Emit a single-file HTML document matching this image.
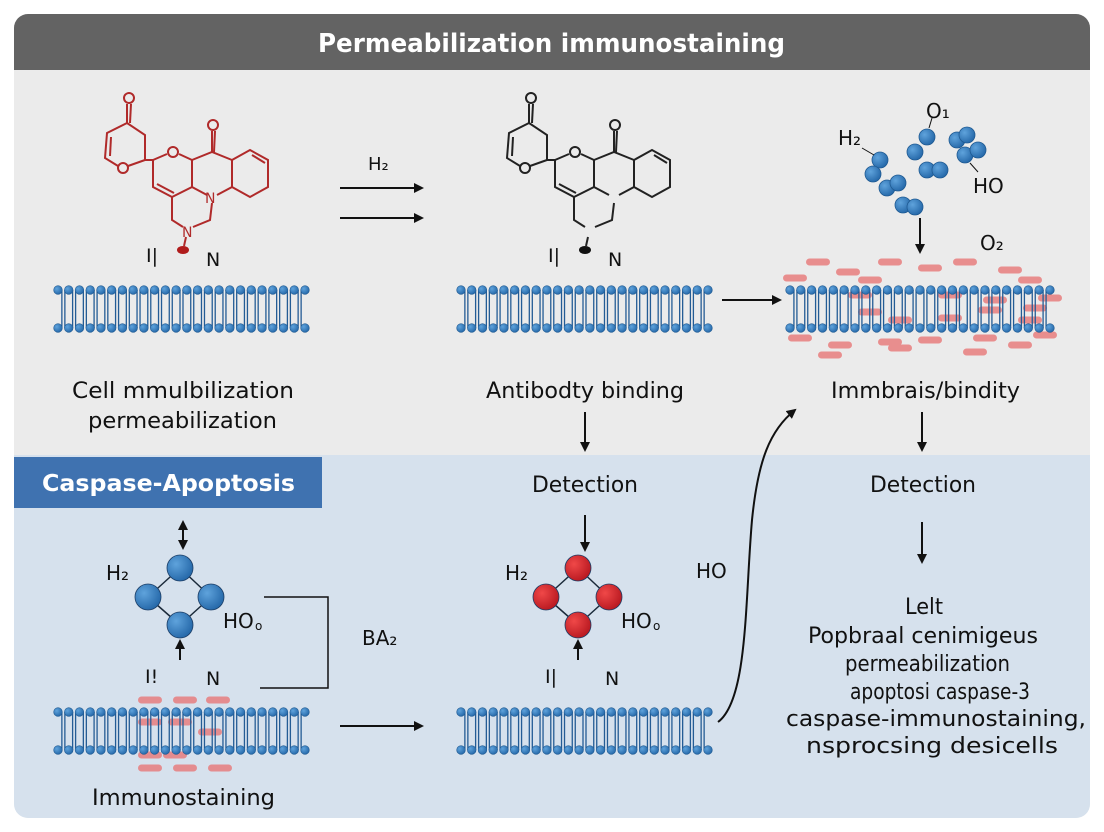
<!DOCTYPE html><html><head><style>
body{margin:0;width:1104px;height:832px;background:#fff;overflow:hidden}
svg{display:block}
text{font-family:"DejaVu Sans","Liberation Sans",sans-serif;fill:#111}
</style></head><body>
<svg id="s" width="1104" height="832" viewBox="0 0 1104 832" xmlns="http://www.w3.org/2000/svg">
<defs>
<marker id="a" markerWidth="10" markerHeight="10" refX="8" refY="5" orient="auto" markerUnits="userSpaceOnUse"><path d="M0,0 L10,5 L0,10 z" fill="#111"/></marker>
<marker id="b" markerWidth="10" markerHeight="10" refX="2" refY="5" orient="auto" markerUnits="userSpaceOnUse"><path d="M10,0 L0,5 L10,10 z" fill="#111"/></marker>
<radialGradient id="g" cx="0.35" cy="0.35" r="0.7"><stop offset="0" stop-color="#5fa3dc"/><stop offset="1" stop-color="#2467a8"/></radialGradient>
<radialGradient id="r" cx="0.35" cy="0.35" r="0.7"><stop offset="0" stop-color="#f04848"/><stop offset="1" stop-color="#b81820"/></radialGradient>
</defs>
<rect x="14" y="14" width="1076" height="804" rx="14" fill="#ebebeb"/>
<path d="M14,455 H1090 V804 a14,14 0 0 1 -14,14 H28 a14,14 0 0 1 -14,-14 z" fill="#d6e1ed"/>
<path d="M14,70 V28 a14,14 0 0 1 14,-14 H1076 a14,14 0 0 1 14,14 V70 z" fill="#636363"/>
<text x="318" y="52" font-size="26" font-weight="bold" textLength="467" lengthAdjust="spacingAndGlyphs" style="fill:#fff">Permeabilization immunostaining</text>
<rect x="14" y="457" width="308" height="51" fill="#3f72b0"/>
<text x="42" y="491" font-size="23" font-weight="bold" textLength="253" lengthAdjust="spacingAndGlyphs" style="fill:#fff">Caspase-Apoptosis</text>

<g id="mol" fill="none" stroke="#b02a2a" stroke-width="2">
<circle cx="129" cy="98" r="5"/>
<line x1="127" y1="104" x2="127" y2="123"/><line x1="131" y1="104" x2="130" y2="123"/>
<polyline points="127,123 107,133 105,158 118,166"/><polyline points="128,166 145,160 145,135 127,123"/>
<line x1="111" y1="137" x2="110" y2="156"/>
<circle cx="123" cy="168" r="5"/>
<line x1="145" y1="160" x2="153" y2="160"/>
<polyline points="153,160 167,154"/><circle cx="173" cy="152" r="5"/><polyline points="179,154 192,160 192,187 172,197 153,187 153,160"/>
<line x1="157" y1="184" x2="174" y2="193"/>
<polyline points="192,160 212,152 232,160 232,187 217,195"/><polyline points="207,195 192,187"/>
<circle cx="213" cy="125" r="5"/><line x1="212" y1="131" x2="212" y2="152"/><line x1="215" y1="131" x2="214" y2="152"/>
<polyline points="232,160 250,150 268,160 268,187 250,197 232,187"/><line x1="252" y1="155" x2="265" y2="163"/>
<polyline points="172,197 172,220 183,227"/><polyline points="193,227 210,220 212,203"/>
<line x1="186" y1="237" x2="184" y2="246"/>
</g>
<text x="205" y="203" font-size="14" style="fill:#b02a2a">N</text>
<text x="182" y="237" font-size="14" style="fill:#b02a2a">N</text>
<ellipse cx="183" cy="250" rx="6" ry="4" fill="#b01c1c"/>
<text x="146" y="262" font-size="19">I|</text><text x="206" y="266" font-size="19">N</text>

<g transform="translate(402,0)">
<g fill="none" stroke="#222" stroke-width="2">
<circle cx="129" cy="98" r="5"/>
<line x1="127" y1="104" x2="127" y2="123"/><line x1="131" y1="104" x2="130" y2="123"/>
<polyline points="127,123 107,133 105,158 118,166"/><polyline points="128,166 145,160 145,135 127,123"/>
<line x1="111" y1="137" x2="110" y2="156"/>
<circle cx="123" cy="168" r="5"/>
<line x1="145" y1="160" x2="153" y2="160"/>
<polyline points="153,160 167,154"/><circle cx="173" cy="152" r="5"/><polyline points="179,154 192,160 192,187 172,197 153,187 153,160"/>
<line x1="157" y1="184" x2="174" y2="193"/>
<polyline points="192,160 212,152 232,160 232,187 217,195"/><polyline points="207,195 192,187"/>
<circle cx="213" cy="125" r="5"/><line x1="212" y1="131" x2="212" y2="152"/><line x1="215" y1="131" x2="214" y2="152"/>
<polyline points="232,160 250,150 268,160 268,187 250,197 232,187"/><line x1="252" y1="155" x2="265" y2="163"/>
<polyline points="172,197 172,220 183,227"/><polyline points="193,227 210,220 212,203"/>
<line x1="186" y1="237" x2="184" y2="246"/>
</g>
<ellipse cx="183" cy="250" rx="6" ry="4" fill="#111"/>
<text x="146" y="262" font-size="19">I|</text><text x="206" y="266" font-size="19">N</text>
</g>

<text x="368" y="170" font-size="18">H₂</text>
<line x1="340" y1="188" x2="422" y2="188" stroke="#111" stroke-width="2" marker-end="url(#a)"/>
<line x1="340" y1="218" x2="422" y2="218" stroke="#111" stroke-width="2" marker-end="url(#a)"/>
<line x1="722" y1="300" x2="780" y2="300" stroke="#111" stroke-width="2" marker-end="url(#a)"/>

<g id="stripes" fill="#e87878" opacity="0.8"></g>
<g id="mem"></g>

<g id="balls"></g>
<text x="838" y="145" font-size="20">H₂</text><text x="926" y="118" font-size="20">O₁</text>
<text x="973" y="193" font-size="20">HO</text><text x="980" y="250" font-size="20">O₂</text>
<line x1="920" y1="218" x2="920" y2="252" stroke="#111" stroke-width="2" marker-end="url(#a)"/>

<g font-size="22" lengthAdjust="spacingAndGlyphs">
<text x="72" y="398" textLength="222" lengthAdjust="spacingAndGlyphs">Cell mmulbilization</text>
<text x="88" y="428" textLength="189" lengthAdjust="spacingAndGlyphs">permeabilization</text>
<text x="486" y="398" textLength="198" lengthAdjust="spacingAndGlyphs">Antibodty binding</text>
<text x="831" y="398" textLength="189" lengthAdjust="spacingAndGlyphs">Immbrais/bindity</text>
<text x="532" y="492" textLength="106" lengthAdjust="spacingAndGlyphs">Detection</text>
<text x="870" y="492" textLength="106" lengthAdjust="spacingAndGlyphs">Detection</text>
<text x="92" y="805" textLength="183" lengthAdjust="spacingAndGlyphs">Immunostaining</text>
<text x="905" y="614" textLength="38" lengthAdjust="spacingAndGlyphs">Lelt</text>
<text x="808" y="643" textLength="230" lengthAdjust="spacingAndGlyphs">Popbraal cenimigeus</text>
<text x="845" y="671" textLength="165" lengthAdjust="spacingAndGlyphs">permeabilization</text>
<text x="850" y="699" textLength="180" lengthAdjust="spacingAndGlyphs">apoptosi caspase-3</text>
<text x="786" y="726" textLength="300" lengthAdjust="spacingAndGlyphs">caspase-immunostaining,</text>
<text x="806" y="753" textLength="252" lengthAdjust="spacingAndGlyphs">nsprocsing desicells</text>
</g>
<g stroke="#111" stroke-width="2" fill="none">
<line x1="585" y1="412" x2="585" y2="450" marker-end="url(#a)"/>
<line x1="922" y1="412" x2="922" y2="450" marker-end="url(#a)"/>
<line x1="585" y1="515" x2="585" y2="550" marker-end="url(#a)"/>
<line x1="922" y1="522" x2="922" y2="562" marker-end="url(#a)"/>
<line x1="183" y1="522" x2="183" y2="548" marker-end="url(#a)" marker-start="url(#b)"/>
<line x1="180" y1="660" x2="180" y2="641" marker-end="url(#a)"/>
<line x1="578" y1="660" x2="578" y2="641" marker-end="url(#a)"/>
<polyline points="264,597 328,597 328,688 260,688" stroke-width="1.5"/>
<line x1="340" y1="726" x2="422" y2="726" marker-end="url(#a)"/>
<path d="M718,722 C748,700 745,600 752,520 C758,460 770,430 795,410" marker-end="url(#a)"/>
</g>
<text x="362" y="645" font-size="20">BA₂</text>
<text x="696" y="578" font-size="20">HO</text>
<g id="dia"></g>
<text x="106" y="580" font-size="20">H₂</text><text x="223" y="628" font-size="20">HO</text><text x="255" y="630" font-size="12">o</text>
<text x="145" y="683" font-size="19">I!</text><text x="206" y="685" font-size="19">N</text>
<text x="505" y="580" font-size="20">H₂</text><text x="621" y="628" font-size="20">HO</text><text x="653" y="630" font-size="12">o</text>
<text x="545" y="683" font-size="19">I|</text><text x="605" y="685" font-size="19">N</text>
</svg>
<script>
var NS="http://www.w3.org/2000/svg";
function el(p,t,a){var e=document.createElementNS(NS,t);for(var k in a)e.setAttribute(k,a[k]);p.appendChild(e);return e;}
var mem=document.getElementById('mem'),st=document.getElementById('stripes');
function membrane(x0,x1,y){var n=Math.round((x1-x0)/10.8);var dx=(x1-x0)/n;
 for(var i=0;i<n;i++){var x=x0+i*dx+dx/2;
  el(mem,'line',{x1:x-1.5,y1:y,x2:x-1.5,y2:y+38,stroke:'#245c95','stroke-width':1.3});
  el(mem,'line',{x1:x+1.5,y1:y,x2:x+1.5,y2:y+38,stroke:'#245c95','stroke-width':1.3});}
 for(var i=0;i<=n;i++){var x=x0+i*dx;
  el(mem,'circle',{cx:x,cy:y,r:4.3,fill:'url(#g)',stroke:'#1f5a92','stroke-width':0.6});
  el(mem,'circle',{cx:x,cy:y+38,r:4.3,fill:'url(#g)',stroke:'#1f5a92','stroke-width':0.6});}}
membrane(58,305,290);membrane(461,708,290);membrane(790,1050,290);
membrane(58,305,712);membrane(461,708,712);
var S=[[818,262],[848,272],[870,280],[890,262],[930,268],[965,262],[1010,270],[1030,280],[795,278],[860,295],[950,295],[995,300],[1035,308],[870,312],[900,320],[950,318],[990,310],[1030,320],[1050,298],[800,338],[840,345],[890,342],[930,340],[985,338],[1020,345],[830,355],[900,348],[975,352],[1045,335],
[150,700],[185,700],[218,700],[150,722],[180,722],[210,732],[150,755],[175,755],[185,768],[150,768],[220,768]];
S.forEach(function(p){el(st,'rect',{x:p[0]-12,y:p[1]-3.5,width:24,height:7,rx:3.5});});
var balls=document.getElementById('balls');
[[880,160],[873,174],[887,188],[898,183],[903,205],[915,207],[927,137],[915,152],[927,170],[940,170],[957,140],[967,135],[965,155],[978,150]].forEach(function(p){el(balls,'circle',{cx:p[0],cy:p[1],r:8,fill:'url(#g)',stroke:'#1f5a92','stroke-width':0.8});});
el(balls,'line',{x1:862,y1:148,x2:874,y2:155,stroke:'#111'});
el(balls,'line',{x1:932,y1:118,x2:929,y2:128,stroke:'#111'});
el(balls,'line',{x1:970,y1:163,x2:978,y2:172,stroke:'#111'});
var dia=document.getElementById('dia');
function diamond(cx,f){var pts=[[cx,568],[cx-32,597],[cx,625],[cx+31,597]];
 for(var i=0;i<4;i++){var a=pts[i],b=pts[(i+1)%4];el(dia,'line',{x1:a[0],y1:a[1],x2:b[0],y2:b[1],stroke:'#1b2a3a','stroke-width':1.5});}
 pts.forEach(function(p){el(dia,'circle',{cx:p[0],cy:p[1],r:13,fill:f,stroke:'#1b3d66','stroke-width':0.8});});}
diamond(180,'url(#g)');diamond(578,'url(#r)');
</script>
</body></html>
